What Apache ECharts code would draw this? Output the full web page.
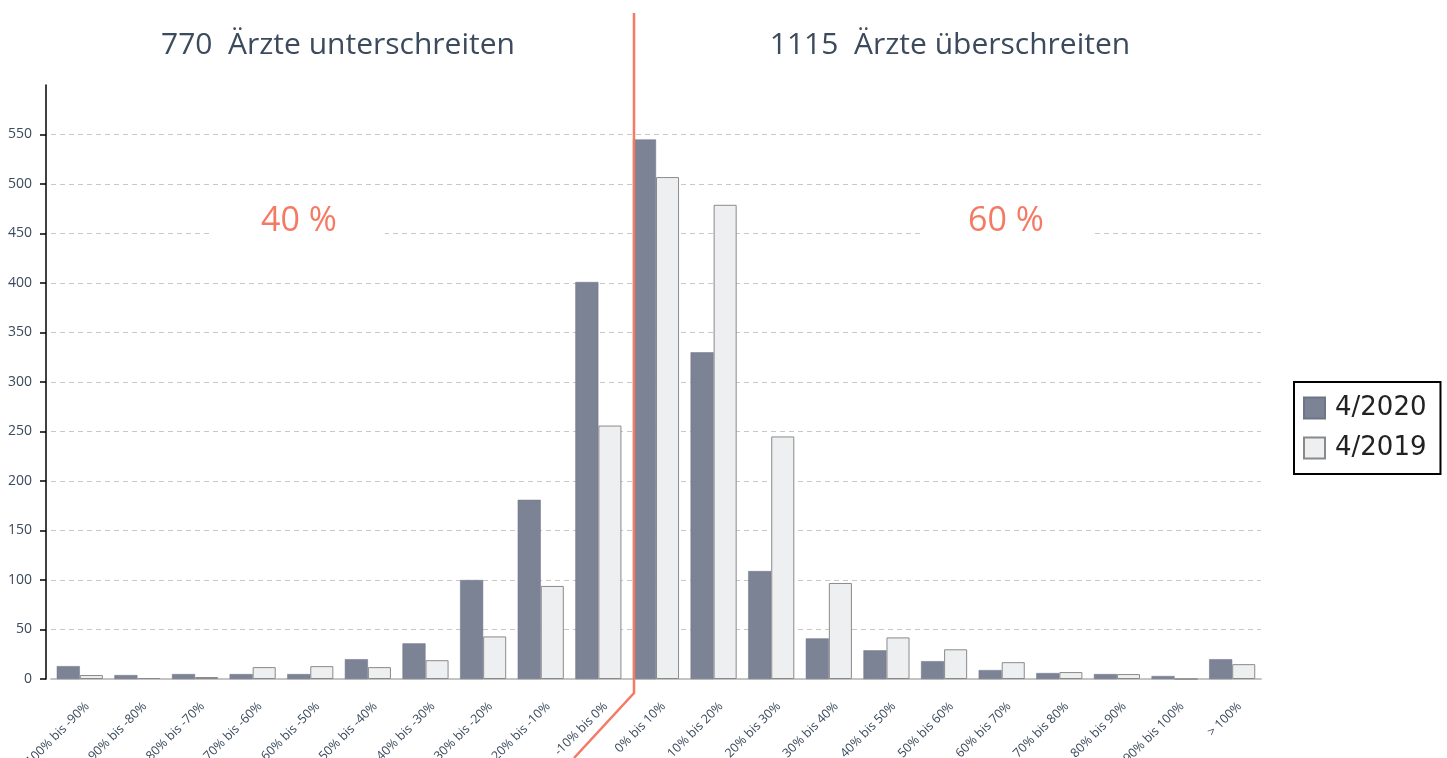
<!DOCTYPE html>
<html>
<head>
<meta charset="utf-8">
<script src="https://cdn.jsdelivr.net/npm/echarts@6/dist/echarts.min.js"></script>
<style>
  html, body { margin: 0; padding: 0; background: #fff; }
  #chart { width: 1447px; height: 758px; }
</style>
</head>
<body>
<div id="chart"></div>
<script>
const categories = [
  "-100% bis -90%", "-90% bis -80%", "-80% bis -70%", "-70% bis -60%", "-60% bis -50%",
  "-50% bis -40%", "-40% bis -30%", "-30% bis -20%", "-20% bis -10%", "-10% bis 0%",
  "0% bis 10%", "10% bis 20%", "20% bis 30%", "30% bis 40%", "40% bis 50%",
  "50% bis 60%", "60% bis 70%", "70% bis 80%", "80% bis 90%", "90% bis 100%", "> 100%"
];
const values2020 = [13, 4, 5, 5, 5, 20, 36, 100, 181, 401, 545, 330, 109, 41, 29, 18, 9, 6, 5, 3, 20];
const values2019 = [4, 1, 2, 12, 13, 12, 19, 43, 94, 256, 507, 479, 245, 97, 42, 30, 17, 7, 5, 0, 15];
const yTicks = [0, 50, 100, 150, 200, 250, 300, 350, 400, 450, 500, 550];
const headLeft = "770  Ärzte unterschreiten";
const headRight = "1115  Ärzte überschreiten";
const shareLeft = "40 %";
const shareRight = "60 %";

const textColor = "#3b4a5c";
const orange = "#f47a64";
const font = "'Open Sans', 'Noto Sans', sans-serif";

const chart = echarts.init(document.getElementById("chart"));

const option = {
  animation: false,
  backgroundColor: "#fff",
  textStyle: { fontFamily: font },
  grid: { left: 51, right: 186, top: 85, bottom: 79, containLabel: false, outerBoundsMode: "none" },
  legend: {
    orient: "vertical",
    left: 1294,
    top: 382,
    padding: [13, 14, 13, 9],
    itemWidth: 21,
    itemHeight: 21,
    itemGap: 14,
    borderColor: "#000",
    borderWidth: 2,
    backgroundColor: "#fff",
    icon: "rect",
    textStyle: { fontSize: 26, color: "#222", fontFamily: "'DejaVu Sans', sans-serif", padding: [0, 0, 0, 5] },
    data: ["4/2020", "4/2019"]
  },
  xAxis: {
    type: "category",
    data: categories,
    axisLine: { lineStyle: { color: "#c4c4c4", width: 2 } },
    axisTick: { alignWithLabel: true, length: 5, lineStyle: { color: "#333" } },
    axisLabel: {
      rotate: 45, fontSize: 12.5, color: textColor, margin: 18, interval: 0,
      verticalAlign: "top", padding: [4, 0, 0, 0]
    }
  },
  yAxis: {
    type: "value",
    min: 0,
    max: 600,
    interval: 50,
    offset: 5,
    axisLine: { show: true, lineStyle: { color: "#000", width: 1.5 } },
    axisTick: { show: true, length: 6, lineStyle: { color: "#000", width: 1.5 }, customValues: yTicks },
    axisLabel: { fontSize: 14, color: textColor, margin: 14, customValues: yTicks },
    splitLine: { lineStyle: { color: "#c8c8c8", type: [5, 4] } }
  },
  series: [
    {
      name: "4/2020",
      type: "bar",
      data: values2020,
      barGap: "0%",
      barCategoryGap: "20%",
      itemStyle: { color: "#7b8395", borderColor: "#6e7587", borderWidth: 0.5 }
    },
    {
      name: "4/2019",
      type: "bar",
      data: values2019,
      itemStyle: { color: "#eeeff0", borderColor: "#8a8a8a", borderWidth: 1 }
    }
  ],
  graphic: [
    {
      type: "text", x: 338, y: 45, z: 100,
      style: { text: headLeft, fontSize: 30, fill: textColor, fontFamily: font, align: "center", verticalAlign: "middle" }
    },
    {
      type: "text", x: 950, y: 45, z: 100,
      style: { text: headRight, fontSize: 30, fill: textColor, fontFamily: font, align: "center", verticalAlign: "middle" }
    },
    {
      type: "text", x: 299, y: 221, z: 100,
      style: {
        text: shareLeft, fontSize: 34, fill: orange, fontFamily: font, align: "center", verticalAlign: "middle",
        backgroundColor: "#fff", padding: [4, 48, 4, 48]
      }
    },
    {
      type: "text", x: 1006, y: 221, z: 100,
      style: {
        text: shareRight, fontSize: 34, fill: orange, fontFamily: font, align: "center", verticalAlign: "middle",
        backgroundColor: "#fff", padding: [4, 48, 4, 48]
      }
    },
    {
      type: "polyline", z: 100,
      shape: { points: [[634, 13], [634, 693], [574, 758]] },
      style: { stroke: orange, lineWidth: 2.5, fill: null }
    }
  ]
};

chart.setOption(option);
</script>
</body>
</html>
